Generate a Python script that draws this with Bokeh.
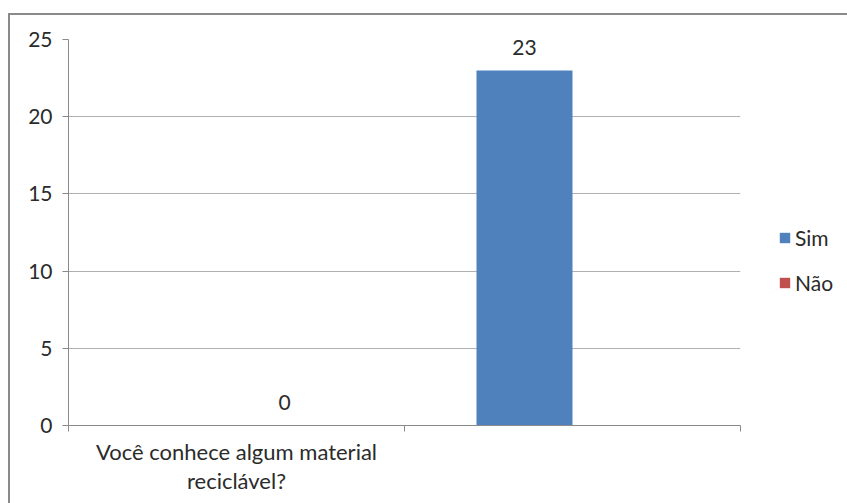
from bokeh.plotting import figure
from bokeh.models import ColumnDataSource, Range1d, FixedTicker, Legend, LegendItem
from bokeh.core.properties import value
from bokeh.embed import file_html
from bokeh.resources import INLINE

categories = ["Você conhece algum material\nreciclável?", ""]
series_names = ["Sim", "Não"]
sim_values = [None, 23]
nao_values = [0, None]
series_values = [sim_values, nao_values]
colors = ["#4F81BD", "#C0504D"]
y_ticks = [0, 5, 10, 15, 20, 25]

FONT = "Lato"
TXT = "#2b2b2b"
FS = "21px"

p = figure(frame_width=672, frame_height=386, output_backend="svg", toolbar_location=None,
           x_range=Range1d(0, len(categories)), y_range=Range1d(0, 25),
           min_border_left=58, min_border_top=24, min_border_bottom=80, min_border_right=0,
           margin=(13, 0, 0, 8),
           styles={"border-left": "2px solid #8a8a8a", "border-top": "2px solid #8a8a8a"})
p.outline_line_color = None
p.background_fill_color = "white"
p.border_fill_color = "white"

n = len(series_names)
gap = 1.5
w = 1.0 / (n + gap)
items = []
for i, (name, vals, col) in enumerate(zip(series_names, series_values, colors)):
    xs, tops, labs = [], [], []
    for ci, v in enumerate(vals):
        if v is None:
            continue
        xs.append(ci + gap / 2 * w + (i + 0.5) * w)
        tops.append(v)
        labs.append(str(v))
    src = ColumnDataSource(dict(x=xs, top=tops, lab=labs))
    r = p.vbar(x="x", top="top", bottom=0, width=w, source=src, fill_color=col, line_color=None)
    p.text(x="x", y="top", text="lab", source=src, text_align="center", text_baseline="alphabetic",
           y_offset=-23, text_font=value(FONT), text_font_size=FS, text_color=TXT)
    items.append(LegendItem(label=name, renderers=[r]))

# axes
p.yaxis.ticker = FixedTicker(ticks=y_ticks, minor_ticks=[])
p.yaxis.major_label_text_font = FONT
p.yaxis.major_label_text_font_size = FS
p.yaxis.major_label_text_color = TXT
p.yaxis.axis_line_color = "#8a8a8a"
p.yaxis.major_tick_line_color = "#8a8a8a"
p.yaxis.major_tick_out = 6
p.yaxis.major_tick_in = 0
p.yaxis.major_label_standoff = 10

p.xaxis.ticker = FixedTicker(ticks=[i + 0.5 for i in range(len(categories))],
                             minor_ticks=list(range(len(categories) + 1)))
p.xaxis.major_label_overrides = {i + 0.5: c for i, c in enumerate(categories)}
p.xaxis.major_label_text_font = FONT
p.xaxis.major_label_text_font_size = "22px"
p.xaxis.major_label_text_line_height = 1.1
p.xaxis.major_label_text_color = TXT
p.xaxis.axis_line_color = "#8a8a8a"
p.xaxis.major_tick_line_color = None
p.xaxis.minor_tick_line_color = "#8a8a8a"
p.xaxis.minor_tick_out = 6
p.xaxis.minor_tick_in = 0
p.xaxis.major_label_standoff = 6

p.xgrid.grid_line_color = None
p.ygrid.grid_line_color = "#b0b0b0"
p.ygrid.ticker = FixedTicker(ticks=y_ticks)

legend = Legend(items=items, location=(38, 130), orientation="vertical",
                glyph_width=13, glyph_height=13, label_height=22, spacing=20,
                padding=0, margin=0, label_standoff=4,
                label_text_font=FONT, label_text_font_size=FS, label_text_color=TXT,
                border_line_color=None, background_fill_alpha=0)
p.add_layout(legend, "right")

open("out.html", "w").write(file_html(p, INLINE))
